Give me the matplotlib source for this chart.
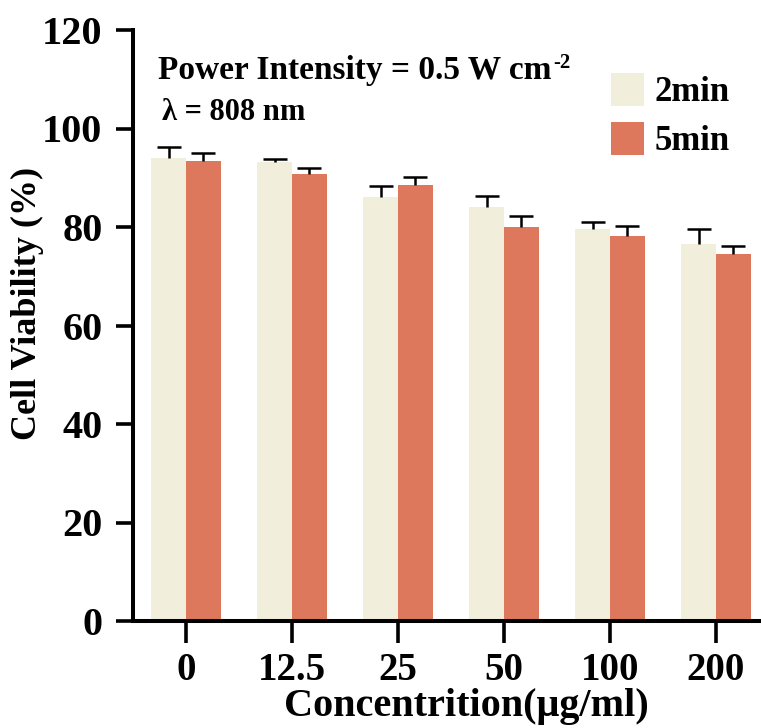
import numpy as np
import matplotlib
matplotlib.use("Agg")
import matplotlib.pyplot as plt
from matplotlib.patches import Patch

# Cell viability under 808 nm irradiation at two exposure times
concentrations = ["0", "12.5", "25", "50", "100", "200"]
viability_2min = [94.0, 93.1, 86.0, 84.0, 79.6, 76.5]
err_2min = [2.3, 0.7, 2.3, 2.2, 1.5, 3.0]
viability_5min = [93.5, 90.7, 88.5, 80.1, 78.1, 74.6]
err_5min = [1.6, 1.3, 1.6, 2.1, 2.1, 1.5]
series_labels = ["2min", "5min"]

cream = "#F1EEDC"
coral = "#DE785C"

plt.rcParams["font.family"] = ["Liberation Serif", "DejaVu Serif"]
plt.rcParams["font.weight"] = "bold"

W, H = 761, 728
fig = plt.figure(figsize=(W / 100, H / 100), dpi=100)
ax = fig.add_axes([133 / W, 107 / H, 636 / W, 591 / H])

x = np.arange(len(concentrations))
bw = 0.33


def bars_with_upper_error(xpos, values, errs, color):
    ax.bar(xpos, values, bw, color=color, zorder=2)
    _, caps, _ = ax.errorbar(xpos, values, yerr=[np.zeros(len(values)), errs],
                             fmt="none", ecolor="black", elinewidth=1.8,
                             capsize=8.5, capthick=1.8, zorder=3)
    # keep only the upper cap (one-sided error bar)
    caps[0].set_visible(False)


bars_with_upper_error(x - bw / 2, viability_2min, err_2min, cream)
bars_with_upper_error(x + bw / 2, viability_5min, err_5min, coral)

ax.set_xlim(-0.5, 5.5)
ax.set_ylim(0, 120)
ax.set_yticks(np.arange(0, 121, 20))
ax.set_xticks(x)
ax.set_xticklabels(concentrations)

for side in ("top", "right"):
    ax.spines[side].set_visible(False)
for side in ("left", "bottom"):
    ax.spines[side].set_linewidth(2.9)

ax.tick_params(axis="y", length=12, width=2.6, pad=10, labelsize=29)
ax.tick_params(axis="x", length=16, width=2.6, pad=6, labelsize=28)
for lab in ax.get_xticklabels() + ax.get_yticklabels():
    lab.set_fontweight("bold")

ax.set_ylabel("Cell Viability (%)", fontsize=26, fontweight="bold")
ax.yaxis.set_label_coords(-0.14, 0.538)
ax.set_xlabel("Concentrition(μg/ml)", fontsize=29, fontweight="bold")
ax.xaxis.set_label_coords(0.524, -0.113)

power = fig.text(158 / W, 1 - 70 / H, "Power Intensity = 0.5 W cm",
                 fontsize=24, fontweight="bold", va="center", ha="left")
ax.annotate("-2", xy=(1, 1), xycoords=power, xytext=(1, 1),
            textcoords="offset points", fontsize=15, fontweight="bold",
            ha="left", va="top")
fig.text(162 / W, 1 - 113 / H, "λ = 808 nm",
         fontsize=22, fontweight="bold", va="center", ha="left")

handles = [Patch(facecolor=cream, edgecolor="none"),
           Patch(facecolor=coral, edgecolor="none")]
fig.legend(handles, series_labels, loc="upper left",
           bbox_to_anchor=(611 / W, 1 - 73 / H), frameon=False,
           prop=dict(family="Liberation Serif", weight="bold", size=25),
           handlelength=0.95, handleheight=1.1, labelspacing=0.35,
           handletextpad=0.3, borderpad=0, borderaxespad=0)

fig.savefig("out.png", dpi=100)
